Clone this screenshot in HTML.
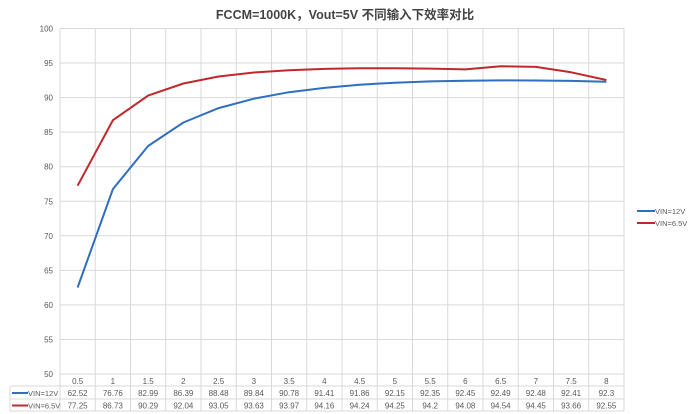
<!DOCTYPE html>
<html><head><meta charset="utf-8"><style>
body{margin:0;background:#fff;}
svg{display:block;font-family:"Liberation Sans","Noto Sans CJK SC",sans-serif;}
</style></head><body>
<svg id="c" width="690" height="414" viewBox="0 0 690 414" xmlns="http://www.w3.org/2000/svg">
<text x="345" y="19" text-anchor="middle" font-size="12.5" font-weight="bold" fill="#444">FCCM=1000K，Vout=5V 不同输入下效率对比</text>
</svg>
<script>
var s=document.getElementById('c'),ns='http://www.w3.org/2000/svg';
function el(t,a,txt){var e=document.createElementNS(ns,t);for(var k in a)e.setAttribute(k,a[k]);if(txt!=null)e.textContent=txt;s.appendChild(e);return e;}
var L=60,R=624,T=28.5,B=374,w=(R-L)/16;
function Y(v){return T+(100-v)*(B-T)/50;}
var cats=['0.5','1','1.5','2','2.5','3','3.5','4','4.5','5','5.5','6','6.5','7','7.5','8'];
var a=[62.52,76.76,82.99,86.39,88.48,89.84,90.78,91.41,91.86,92.15,92.35,92.45,92.49,92.48,92.41,92.3];
var b=[77.25,86.73,90.29,92.04,93.05,93.63,93.97,94.16,94.24,94.25,94.2,94.08,94.54,94.45,93.66,92.55];
for(var v=50;v<=100;v+=5){var y=Y(v);el('line',{x1:L,x2:R,y1:y,y2:y,stroke:'#d9d9d9','stroke-width':1});el('text',{x:53,y:y+3,'text-anchor':'end','font-size':8,fill:'#595959'},v);}
for(var i=0;i<=16;i++){var x=L+i*w;el('line',{x1:x,x2:x,y1:T,y2:411,stroke:'#d9d9d9','stroke-width':1});}
[386,399,411].forEach(function(y){el('line',{x1:10,x2:R,y1:y,y2:y,stroke:'#d9d9d9','stroke-width':1});});
el('line',{x1:10,x2:10,y1:386,y2:411,stroke:'#d9d9d9'});
for(var i=0;i<16;i++){var cx=L+(i+0.5)*w;
el('text',{x:cx,y:384,'text-anchor':'middle','font-size':8,fill:'#595959'},cats[i]);
el('text',{x:cx,y:396,'text-anchor':'middle','font-size':8,fill:'#595959'},a[i]);
el('text',{x:cx,y:408.5,'text-anchor':'middle','font-size':8,fill:'#595959'},b[i]);}
el('line',{x1:12,x2:28,y1:393,y2:393,stroke:'#2e6fc0','stroke-width':2});
el('text',{x:28,y:396,'font-size':7.5,fill:'#595959'},'VIN=12V');
el('line',{x1:12,x2:28,y1:405.5,y2:405.5,stroke:'#c0282b','stroke-width':2});
el('text',{x:28,y:408.5,'font-size':7.5,fill:'#595959'},'VIN=6.5V');
function line(d,c){var p=d.map(function(v,i){return (L+(i+0.5)*w).toFixed(1)+','+Y(v).toFixed(1);}).join(' ');el('polyline',{points:p,fill:'none',stroke:c,'stroke-width':2,'stroke-linejoin':'round'});}
line(a,'#2e6fc0');line(b,'#c0282b');
el('line',{x1:637,x2:655,y1:211,y2:211,stroke:'#2e6fc0','stroke-width':2});
el('text',{x:655,y:214,'font-size':7.5,fill:'#595959'},'VIN=12V');
el('line',{x1:637,x2:655,y1:223,y2:223,stroke:'#c0282b','stroke-width':2});
el('text',{x:655,y:226,'font-size':7.5,fill:'#595959'},'VIN=6.5V');
</script>
</body></html>
